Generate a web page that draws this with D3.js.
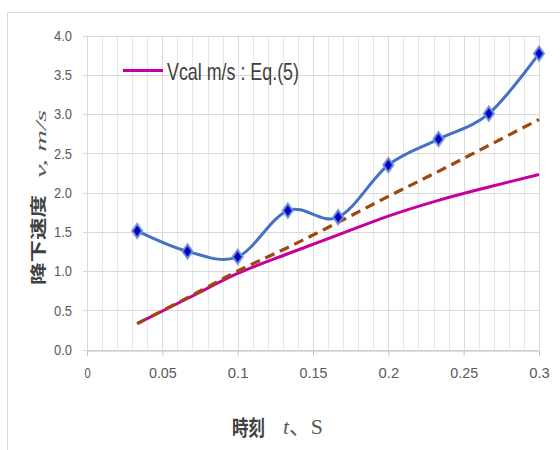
<!DOCTYPE html>
<html>
<head>
<meta charset="utf-8">
<script src="https://cdn.jsdelivr.net/npm/d3@7"></script>
<style>
  body { margin: 0; background: #fff; }
  svg { display: block; }
</style>
</head>
<body>
<div id="chart"></div>
<script>
// time (s) of each frame
var tValues = [0.0333, 0.0667, 0.1, 0.1333, 0.1667, 0.2, 0.2333, 0.2667, 0.3];
// measured falling speed (m/s)
var vMeasured = [1.51, 1.25, 1.18, 1.77, 1.685, 2.35, 2.68, 3.005, 3.77];
// Vcal m/s : Eq.(5)
var vCalc = [0.33, 0.65, 0.97, 1.22, 1.46, 1.70, 1.90, 2.07, 2.23];
// dashed trend line
var vTrend = [0.33, 0.66, 1.00, 1.30, 1.62, 1.95, 2.27, 2.60, 2.93];

var xTicks = [0, 0.05, 0.1, 0.15, 0.2, 0.25, 0.3];
var xTickLabels = ['0', '0.05', '0.1', '0.15', '0.2', '0.25', '0.3'];
var yTicks = [0, 0.5, 1, 1.5, 2, 2.5, 3, 3.5, 4];
var yTickLabels = ['0.0', '0.5', '1.0', '1.5', '2.0', '2.5', '3.0', '3.5', '4.0'];
var legendLabel = 'Vcal m/s : Eq.(5)';

var width = 560, height = 450;
var margin = {top: 35.5, right: 21, bottom: 100.5, left: 87};

var svg = d3.select('#chart').append('svg')
    .attr('width', width)
    .attr('height', height);

// outer chart border
svg.append('rect')
    .attr('x', 7.5).attr('y', 12.5)
    .attr('width', 600).attr('height', 500)
    .attr('fill', '#fff')
    .attr('stroke', '#d9d9d9');

var x = d3.scaleLinear()
    .domain([0, 0.3])
    .range([margin.left, width - margin.right]);

var y = d3.scaleLinear()
    .domain([0, 4])
    .range([height - margin.bottom, margin.top]);

// vertical grid every 0.01
var minor = d3.range(0, 31).map(function(i) { return i / 100; });
svg.append('g')
    .selectAll('line')
    .data(minor)
    .enter().append('line')
    .attr('x1', function(d) { return Math.round(x(d)) + 0.5; })
    .attr('x2', function(d) { return Math.round(x(d)) + 0.5; })
    .attr('y1', y(4)).attr('y2', y(0))
    .attr('stroke', function(d, i) { return i % 5 === 0 ? '#d9d9d9' : '#e8e8e8'; })
    .attr('stroke-width', 1);

// horizontal grid (with a short tick left of the axis)
svg.append('g')
    .selectAll('line')
    .data(yTicks)
    .enter().append('line')
    .attr('x1', x(0) - 4).attr('x2', x(0.3))
    .attr('y1', function(d) { return Math.round(y(d)) + 0.5; })
    .attr('y2', function(d) { return Math.round(y(d)) + 0.5; })
    .attr('stroke', '#d9d9d9');

// x axis
var xAxis = svg.append('g')
    .attr('transform', 'translate(0,' + (Math.round(y(0)) + 0.5) + ')')
    .call(d3.axisBottom(x).tickValues(xTicks).tickSize(5).tickPadding(12)
        .tickFormat(function(d, i) { return xTickLabels[i]; }));
xAxis.select('.domain').attr('stroke', '#bfbfbf');
xAxis.selectAll('.tick line').attr('stroke', '#bfbfbf');
xAxis.selectAll('.tick text')
    .attr('fill', '#595959')
    .style('font-family', 'Liberation Sans, sans-serif')
    .style('font-size', '15px')
    .attr('textLength', function(d, i) { return xTickLabels[i].length * 7.2 - 1; })
    .attr('lengthAdjust', 'spacingAndGlyphs');

// y axis labels
var yAxis = svg.append('g')
    .attr('transform', 'translate(' + x(0) + ',0)')
    .call(d3.axisLeft(y).tickValues(yTicks).tickSize(0).tickPadding(15)
        .tickFormat(function(d, i) { return yTickLabels[i]; }));
yAxis.select('.domain').remove();
yAxis.selectAll('.tick text')
    .attr('fill', '#595959')
    .style('font-family', 'Liberation Sans, sans-serif')
    .style('font-size', '15px')
    .attr('textLength', 18)
    .attr('lengthAdjust', 'spacingAndGlyphs');

function series(vals) {
    return tValues.map(function(t, i) { return [t, vals[i]]; });
}

var line = d3.line()
    .x(function(d) { return x(d[0]); })
    .y(function(d) { return y(d[1]); })
    .curve(d3.curveCatmullRom.alpha(0.5));

svg.append('path')
    .datum(series(vCalc))
    .attr('d', line)
    .attr('fill', 'none')
    .attr('stroke', '#c8009b')
    .attr('stroke-width', 3);

svg.append('path')
    .datum(series(vTrend))
    .attr('d', line)
    .attr('fill', 'none')
    .attr('stroke', '#9e480e')
    .attr('stroke-width', 3.2)
    .attr('stroke-dasharray', '10,6');

svg.append('path')
    .datum(series(vMeasured))
    .attr('d', line.curve(d3.curveCardinal.tension(0)))
    .attr('fill', 'none')
    .attr('stroke', '#4472c4')
    .attr('stroke-width', 3);

svg.append('g')
    .selectAll('path')
    .data(series(vMeasured))
    .enter().append('path')
    .attr('transform', function(d) { return 'translate(' + x(d[0]) + ',' + y(d[1]) + ')'; })
    .attr('d', 'M0,-7L5,0L0,7L-5,0Z')
    .attr('fill', '#0000c8')
    .attr('stroke', '#6b93d6')
    .attr('stroke-width', 2.2)
    .attr('stroke-opacity', 0.85);

// legend
svg.append('line')
    .attr('x1', 123).attr('x2', 163)
    .attr('y1', 70.5).attr('y2', 70.5)
    .attr('stroke', '#c8009b')
    .attr('stroke-width', 3);
svg.append('text')
    .attr('x', 167).attr('y', 80)
    .attr('fill', '#404040')
    .style('font-family', 'Liberation Sans, sans-serif')
    .style('font-size', '24px')
    .attr('textLength', 132)
    .attr('lengthAdjust', 'spacingAndGlyphs')
    .text(legendLabel);

// x title
svg.append('text')
    .attr('x', 232).attr('y', 435)
    .attr('fill', '#404040')
    .style('font-family', '"Noto Sans CJK JP", sans-serif')
    .style('font-weight', 'bold')
    .style('font-size', '21px')
    .attr('textLength', 33)
    .attr('lengthAdjust', 'spacingAndGlyphs')
    .text('時刻');
var xt = svg.append('text')
    .attr('x', 283).attr('y', 434)
    .attr('fill', '#595959')
    .style('font-family', '"Liberation Serif", "Noto Sans CJK JP", serif')
    .style('font-size', '22px')
    .attr('textLength', 40)
    .attr('lengthAdjust', 'spacingAndGlyphs');
xt.append('tspan').style('font-style', 'italic').text('t');
xt.append('tspan').text('、S');

// y title
svg.append('text')
    .attr('transform', 'translate(44,240) rotate(-90) scale(1,0.72)')
    .attr('text-anchor', 'middle')
    .attr('fill', '#404040')
    .style('font-family', '"Noto Sans CJK JP", sans-serif')
    .style('font-weight', 'bold')
    .style('font-size', '22px')
    .attr('textLength', 90)
    .attr('lengthAdjust', 'spacingAndGlyphs')
    .text('降下速度');
svg.append('text')
    .attr('transform', 'translate(46,144) rotate(-90) scale(1,0.72)')
    .attr('text-anchor', 'middle')
    .attr('fill', '#595959')
    .style('font-family', '"Liberation Serif", serif')
    .style('font-style', 'italic')
    .style('font-size', '20px')
    .attr('textLength', 68)
    .attr('lengthAdjust', 'spacingAndGlyphs')
    .text('v,  m/s');
</script>
</body>
</html>
